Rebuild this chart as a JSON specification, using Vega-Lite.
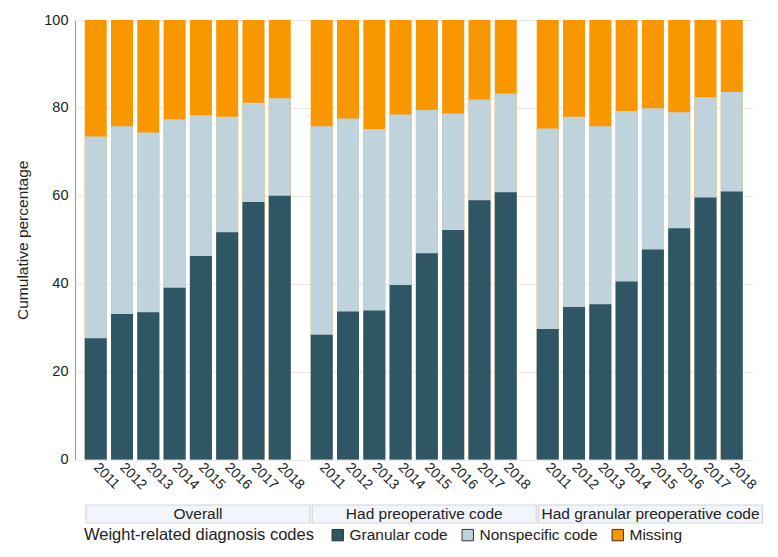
{
  "$schema": "https://vega.github.io/schema/vega-lite/v6.json",
  "background": "white",
  "padding": {"left": 15, "top": 12, "right": 5, "bottom": 5},
  "spacing": 12,
  "config": {
    "font": "Liberation Sans",
    "view": {"stroke": null}
  },
  "datasets": {
    "bars": [
      {"group": "Overall", "year": "2011", "code": "Missing", "cum": 100},
      {"group": "Overall", "year": "2011", "code": "Nonspecific code", "cum": 73.5},
      {"group": "Overall", "year": "2011", "code": "Granular code", "cum": 27.6},
      {"group": "Overall", "year": "2012", "code": "Missing", "cum": 100},
      {"group": "Overall", "year": "2012", "code": "Nonspecific code", "cum": 75.8},
      {"group": "Overall", "year": "2012", "code": "Granular code", "cum": 33.1},
      {"group": "Overall", "year": "2013", "code": "Missing", "cum": 100},
      {"group": "Overall", "year": "2013", "code": "Nonspecific code", "cum": 74.4},
      {"group": "Overall", "year": "2013", "code": "Granular code", "cum": 33.5},
      {"group": "Overall", "year": "2014", "code": "Missing", "cum": 100},
      {"group": "Overall", "year": "2014", "code": "Nonspecific code", "cum": 77.4},
      {"group": "Overall", "year": "2014", "code": "Granular code", "cum": 39.1},
      {"group": "Overall", "year": "2015", "code": "Missing", "cum": 100},
      {"group": "Overall", "year": "2015", "code": "Nonspecific code", "cum": 78.3},
      {"group": "Overall", "year": "2015", "code": "Granular code", "cum": 46.3},
      {"group": "Overall", "year": "2016", "code": "Missing", "cum": 100},
      {"group": "Overall", "year": "2016", "code": "Nonspecific code", "cum": 78.0},
      {"group": "Overall", "year": "2016", "code": "Granular code", "cum": 51.7},
      {"group": "Overall", "year": "2017", "code": "Missing", "cum": 100},
      {"group": "Overall", "year": "2017", "code": "Nonspecific code", "cum": 81.2},
      {"group": "Overall", "year": "2017", "code": "Granular code", "cum": 58.6},
      {"group": "Overall", "year": "2018", "code": "Missing", "cum": 100},
      {"group": "Overall", "year": "2018", "code": "Nonspecific code", "cum": 82.2},
      {"group": "Overall", "year": "2018", "code": "Granular code", "cum": 60.0},
      {"group": "Had preoperative code", "year": "2011", "code": "Missing", "cum": 100},
      {"group": "Had preoperative code", "year": "2011", "code": "Nonspecific code", "cum": 75.8},
      {"group": "Had preoperative code", "year": "2011", "code": "Granular code", "cum": 28.4},
      {"group": "Had preoperative code", "year": "2012", "code": "Missing", "cum": 100},
      {"group": "Had preoperative code", "year": "2012", "code": "Nonspecific code", "cum": 77.6},
      {"group": "Had preoperative code", "year": "2012", "code": "Granular code", "cum": 33.7},
      {"group": "Had preoperative code", "year": "2013", "code": "Missing", "cum": 100},
      {"group": "Had preoperative code", "year": "2013", "code": "Nonspecific code", "cum": 75.2},
      {"group": "Had preoperative code", "year": "2013", "code": "Granular code", "cum": 33.9},
      {"group": "Had preoperative code", "year": "2014", "code": "Missing", "cum": 100},
      {"group": "Had preoperative code", "year": "2014", "code": "Nonspecific code", "cum": 78.5},
      {"group": "Had preoperative code", "year": "2014", "code": "Granular code", "cum": 39.7},
      {"group": "Had preoperative code", "year": "2015", "code": "Missing", "cum": 100},
      {"group": "Had preoperative code", "year": "2015", "code": "Nonspecific code", "cum": 79.5},
      {"group": "Had preoperative code", "year": "2015", "code": "Granular code", "cum": 46.9},
      {"group": "Had preoperative code", "year": "2016", "code": "Missing", "cum": 100},
      {"group": "Had preoperative code", "year": "2016", "code": "Nonspecific code", "cum": 78.7},
      {"group": "Had preoperative code", "year": "2016", "code": "Granular code", "cum": 52.2},
      {"group": "Had preoperative code", "year": "2017", "code": "Missing", "cum": 100},
      {"group": "Had preoperative code", "year": "2017", "code": "Nonspecific code", "cum": 81.9},
      {"group": "Had preoperative code", "year": "2017", "code": "Granular code", "cum": 59.0},
      {"group": "Had preoperative code", "year": "2018", "code": "Missing", "cum": 100},
      {"group": "Had preoperative code", "year": "2018", "code": "Nonspecific code", "cum": 83.3},
      {"group": "Had preoperative code", "year": "2018", "code": "Granular code", "cum": 60.8},
      {"group": "Had granular preoperative code", "year": "2011", "code": "Missing", "cum": 100},
      {"group": "Had granular preoperative code", "year": "2011", "code": "Nonspecific code", "cum": 75.3},
      {"group": "Had granular preoperative code", "year": "2011", "code": "Granular code", "cum": 29.7},
      {"group": "Had granular preoperative code", "year": "2012", "code": "Missing", "cum": 100},
      {"group": "Had granular preoperative code", "year": "2012", "code": "Nonspecific code", "cum": 78.0},
      {"group": "Had granular preoperative code", "year": "2012", "code": "Granular code", "cum": 34.7},
      {"group": "Had granular preoperative code", "year": "2013", "code": "Missing", "cum": 100},
      {"group": "Had granular preoperative code", "year": "2013", "code": "Nonspecific code", "cum": 75.8},
      {"group": "Had granular preoperative code", "year": "2013", "code": "Granular code", "cum": 35.3},
      {"group": "Had granular preoperative code", "year": "2014", "code": "Missing", "cum": 100},
      {"group": "Had granular preoperative code", "year": "2014", "code": "Nonspecific code", "cum": 79.3},
      {"group": "Had granular preoperative code", "year": "2014", "code": "Granular code", "cum": 40.5},
      {"group": "Had granular preoperative code", "year": "2015", "code": "Missing", "cum": 100},
      {"group": "Had granular preoperative code", "year": "2015", "code": "Nonspecific code", "cum": 79.9},
      {"group": "Had granular preoperative code", "year": "2015", "code": "Granular code", "cum": 47.8},
      {"group": "Had granular preoperative code", "year": "2016", "code": "Missing", "cum": 100},
      {"group": "Had granular preoperative code", "year": "2016", "code": "Nonspecific code", "cum": 79.0},
      {"group": "Had granular preoperative code", "year": "2016", "code": "Granular code", "cum": 52.6},
      {"group": "Had granular preoperative code", "year": "2017", "code": "Missing", "cum": 100},
      {"group": "Had granular preoperative code", "year": "2017", "code": "Nonspecific code", "cum": 82.4},
      {"group": "Had granular preoperative code", "year": "2017", "code": "Granular code", "cum": 59.6},
      {"group": "Had granular preoperative code", "year": "2018", "code": "Missing", "cum": 100},
      {"group": "Had granular preoperative code", "year": "2018", "code": "Nonspecific code", "cum": 83.6},
      {"group": "Had granular preoperative code", "year": "2018", "code": "Granular code", "cum": 61.0}
    ],
    "groups": [
      {"group": "Overall"},
      {"group": "Had preoperative code"},
      {"group": "Had granular preoperative code"}
    ]
  },
  "vconcat": [
    {
      "data": {"name": "bars"},
      "facet": {
        "column": {
          "field": "group",
          "type": "nominal",
          "sort": ["Overall", "Had preoperative code", "Had granular preoperative code"],
          "header": null
        }
      },
      "spacing": 0,
      "spec": {
        "width": 225.5,
        "height": 439.5,
        "mark": {"type": "bar"},
        "encoding": {
          "x": {
            "field": "year",
            "type": "ordinal",
            "scale": {"paddingInner": 0.163, "paddingOuter": 0.37},
            "axis": {
              "title": null,
              "labelAngle": 45,
              "labelAlign": "left",
              "labelBaseline": "middle",
              "labelFontSize": 14,
              "labelColor": "#222",
              "labelPadding": 5,
              "ticks": false,
              "domainColor": "#9aa0a4",
              "domainWidth": 1.2
            }
          },
          "y": {
            "field": "cum",
            "type": "quantitative",
            "stack": null,
            "scale": {"domain": [0, 100], "nice": false},
            "axis": {
              "title": "Cumulative percentage",
              "titleFontSize": 15.5,
              "titleFontWeight": "normal",
              "titleColor": "#222",
              "titlePadding": 13,
              "values": [0, 20, 40, 60, 80, 100],
              "labelFontSize": 14.5,
              "labelColor": "#222",
              "labelPadding": 7,
              "ticks": false,
              "domainColor": "#9aa0a4",
              "domainWidth": 1.2,
              "gridColor": "#e9e9e9",
              "gridWidth": 1
            }
          },
          "color": {
            "field": "code",
            "type": "nominal",
            "scale": {
              "domain": ["Granular code", "Nonspecific code", "Missing"],
              "range": ["#2e5664", "#bed3dc", "#f99700"]
            },
            "legend": {
              "title": "Weight-related diagnosis codes",
              "orient": "bottom",
              "direction": "horizontal",
              "titleOrient": "left",
              "titleFontSize": 16.5,
              "titleFontWeight": "normal",
              "titleColor": "#222",
              "titleLimit": 400,
              "titlePadding": 16,
              "labelFontSize": 15.5,
              "labelColor": "#222",
              "labelLimit": 300,
              "symbolType": "square",
              "symbolSize": 130,
              "symbolStrokeColor": "#333",
              "symbolStrokeWidth": 1,
              "columnPadding": 12,
              "offset": -6,
              "padding": 9
            }
          }
        }
      }
    },
    {
      "data": {"name": "groups"},
      "width": 687.5,
      "height": 18,
      "layer": [
        {
          "mark": {"type": "rect", "fill": "#f2f6fc", "stroke": "#d2d4d6", "strokeWidth": 1.2},
          "encoding": {
            "x": {
              "field": "group",
              "type": "nominal",
              "sort": ["Overall", "Had preoperative code", "Had granular preoperative code"],
              "scale": {"paddingInner": 0.01, "paddingOuter": 0, "range": [11, 687.5]},
              "axis": null
            }
          }
        },
        {
          "mark": {"type": "text", "fontSize": 15.5, "color": "#222", "baseline": "middle"},
          "encoding": {
            "x": {
              "field": "group",
              "type": "nominal",
              "sort": ["Overall", "Had preoperative code", "Had granular preoperative code"],
              "axis": null
            },
            "text": {"field": "group"}
          }
        }
      ]
    }
  ]
}
